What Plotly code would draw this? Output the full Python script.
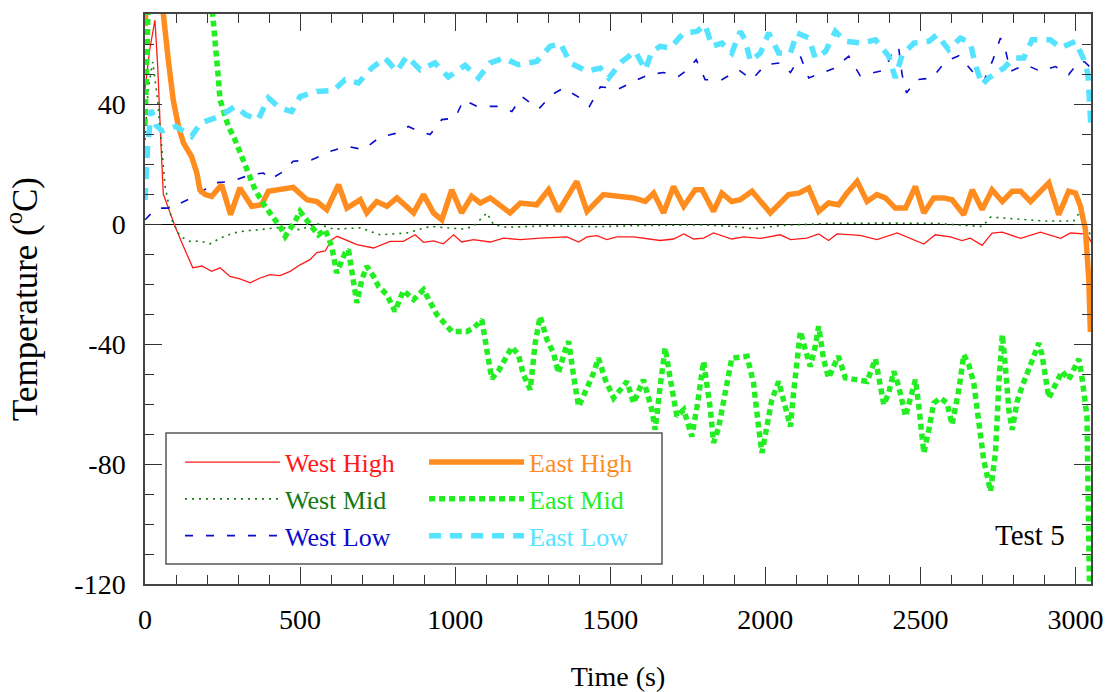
import plotly.graph_objects as go

# ---- Test 5 thermocouple records: time (s) and temperature (deg C) ----
west_high_t = [0, 15, 32, 41, 50, 59, 81, 97, 124, 154, 183, 215, 242, 274, 306, 339, 371, 403, 435, 468,
               500, 532, 554, 581, 602, 620, 683, 737, 790, 833, 871, 898, 930, 962, 995, 1021, 1059, 1113,
               1156, 1210, 1274, 1360, 1398, 1425, 1457, 1489, 1521, 1575, 1661, 1704, 1737, 1769, 1801,
               1833, 1892, 1930, 1984, 2048, 2081, 2134, 2172, 2204, 2231, 2306, 2360, 2425, 2511, 2548,
               2597, 2634, 2661, 2699, 2731, 2764, 2823, 2887, 2952, 2984, 3027, 3043, 3050]
west_high_v = [45, 58, 68, 52.5, 30, 10, 3.7, -0.8, -7.5, -14.6, -14, -15.8, -14.6, -17.5, -18.3, -19.6,
               -18, -16.9, -17.2, -15.8, -13.6, -11.9, -9.5, -9, -5.2, -4.1, -6.9, -8, -5.8, -5.8, -3.6,
               -6.1, -5.6, -6.6, -3.6, -6, -5.2, -6, -4.7, -5.2, -4.7, -4.3, -6, -4.3, -3.9, -5.2, -4.3,
               -4.3, -5.5, -5, -3.3, -5, -4.7, -3, -5, -4.3, -4.8, -3.6, -5.2, -4.7, -3.3, -5.5, -3.3, -3.8,
               -5.2, -3, -6.7, -3.6, -4.3, -5.5, -4.7, -7.1, -3, -2.7, -4.8, -2.7, -4.8, -3, -3.3, -4.5, -6]

west_mid_t = [0, 10, 25, 40, 50, 65, 86, 113, 145, 177, 210, 242, 285, 328, 371, 435, 500, 554, 608, 694,
              758, 844, 919, 1027, 1059, 1102, 1124, 1166, 1300, 1450, 1600, 1700, 1800, 1900, 1960, 2050,
              2200, 2400, 2550, 2650, 2700, 2726, 2800, 2900, 2994, 3016, 3035, 3050]
west_mid_v = [28, 45, 54, 42, 30, 12.5, 1.4, -4.1, -5.8, -5.7, -6.6, -4.7, -3, -2.2, -1.9, -1.1, -1.9, 0.1,
              -1.7, -1.3, -3.6, -3, -0.8, -1.7, -0.8, 3.7, -0.2, -1.1, -0.6, -0.9, -0.5, -0.5, -0.3, -0.8,
              -1.6, -0.5, 0.2, 0.3, 0.2, -0.5, -0.8, 2.3, 1.8, 1.0, 1.0, 4.2, -1, -4]

west_low_t = [0, 37, 81, 124, 172, 220, 280, 339, 382, 403, 446, 478, 538, 597, 651, 704, 758, 812, 849,
              882, 919, 957, 1000, 1027, 1070, 1135, 1183, 1215, 1269, 1312, 1349, 1403, 1433, 1468, 1527,
              1575, 1624, 1672, 1720, 1753, 1777, 1806, 1860, 1914, 1957, 2000, 2048, 2081, 2113, 2140,
              2177, 2220, 2269, 2306, 2344, 2387, 2414, 2430, 2441, 2455, 2489, 2538, 2581, 2624, 2667,
              2704, 2734, 2758, 2774, 2790, 2839, 2887, 2935, 2978, 3011, 3030, 3050]
west_low_v = [1.4, 5.3, 5.3, 7.5, 9.8, 13.7, 14.2, 16.4, 17, 14.8, 17.5, 20.9, 21.4, 24.2, 25.9, 24.8, 29,
              30.3, 32.5, 30.9, 29.8, 34.8, 35.3, 41.4, 39.2, 39.2, 37.5, 42.5, 38.3, 43.1, 45.3, 42, 39.2,
              45.7, 45, 47.5, 49.8, 50.5, 49.2, 51.7, 54.8, 48.1, 48.1, 51.4, 48.1, 53.1, 53.7, 50.5, 55.9,
              48.7, 50.1, 51.8, 55.9, 49.4, 50.3, 51.4, 58.7, 58.7, 49.8, 43.7, 48.1, 48.7, 54.2, 56.1,
              50.9, 47.5, 54.8, 62, 58.1, 50.9, 53.1, 50.9, 52.5, 49.8, 54.2, 54, 52]

east_high_t = [0, 15, 45, 59, 75, 91, 108, 124, 150, 167, 177, 194, 215, 247, 276, 306, 344, 376, 398, 435,
               478, 522, 554, 586, 624, 651, 694, 715, 747, 780, 812, 866, 898, 930, 957, 989, 1021, 1053,
               1081, 1113, 1177, 1210, 1263, 1301, 1333, 1392, 1425, 1478, 1532, 1575, 1613, 1640, 1672,
               1704, 1737, 1774, 1796, 1833, 1860, 1892, 1919, 1957, 2016, 2075, 2108, 2140, 2172, 2204,
               2236, 2263, 2296, 2328, 2360, 2387, 2419, 2452, 2484, 2511, 2543, 2575, 2602, 2640, 2667,
               2699, 2731, 2764, 2796, 2823, 2855, 2887, 2914, 2946, 2978, 3000, 3016, 3032, 3043, 3048]
east_high_v = [66, 95, 95, 70, 54.8, 41.4, 32.5, 27, 22.5, 17, 11.4, 9.8, 9.2, 13.1, 3.1, 12, 5.9, 6.4,
               10.9, 11.4, 12.2, 8.1, 7.5, 4.8, 13.1, 5.3, 8.1, 3.7, 7.5, 5.9, 8.7, 3.7, 9.8, 3.7, 1.4, 11.4,
               3.7, 9.2, 7, 8.7, 3.7, 7, 6.4, 11.4, 4.2, 14.2, 4.2, 9.8, 9.2, 8.7, 7.5, 10.3, 3.7, 12.5, 5.9,
               11.4, 11.4, 4.2, 10.3, 7.5, 8.1, 10.9, 3.7, 9.8, 10.3, 12, 4.2, 7, 6.4, 10.3, 14.2, 7.5, 9.8,
               8.7, 5.3, 5.3, 12.5, 3.7, 8.7, 8.7, 8.1, 3.1, 11.4, 4.8, 11.4, 7.5, 10.9, 10.9, 7.5, 10.9,
               13.7, 3.1, 10.9, 10.3, 5.9, -1.9, -18.6, -36]

east_mid_t = [0, 5, 20, 150, 200, 218, 226, 236, 242, 269, 290, 312, 328, 355, 387, 414, 435, 452, 468, 484,
              500, 522, 545, 559, 581, 602, 618, 629, 645, 656, 667, 683, 699, 715, 737, 753, 780, 806, 833,
              866, 898, 919, 941, 989, 1038, 1059, 1086, 1102, 1118, 1140, 1156, 1183, 1204, 1220, 1242,
              1258, 1274, 1296, 1317, 1333, 1355, 1366, 1382, 1398, 1425, 1446, 1462, 1484, 1511, 1532,
              1554, 1575, 1607, 1634, 1645, 1661, 1677, 1694, 1715, 1737, 1763, 1780, 1801, 1823, 1833,
              1849, 1871, 1892, 1941, 1962, 1978, 1989, 2005, 2021, 2043, 2065, 2081, 2091, 2102, 2113,
              2129, 2145, 2161, 2172, 2188, 2204, 2220, 2236, 2258, 2290, 2328, 2355, 2382, 2398, 2414,
              2430, 2452, 2468, 2484, 2495, 2511, 2527, 2543, 2565, 2586, 2602, 2624, 2640, 2656, 2672,
              2688, 2704, 2726, 2742, 2753, 2764, 2774, 2785, 2796, 2812, 2828, 2855, 2882, 2892, 2914,
              2935, 2957, 2978, 2995, 3011, 3021, 3037, 3045, 3050]
east_mid_v = [33, 75, 110, 110, 85, 70, 58, 49.2, 41.4, 32.5, 28.1, 22.5, 18.1, 11.4, 5.9, 2.5, -0.8, -4.1,
              -1.9, 0.9, 4.2, 0.9, -1.9, -3.6, -1.9, -7.5, -16.3, -13.6, -9.7, -8.6, -15.2, -26.3, -18.6,
              -14.1, -17.5, -20.8, -23.6, -29.1, -22.2, -25.2, -21.9, -26.3, -30.2, -35.8, -35.8, -34.7,
              -31.9, -41.9, -51.6, -48.9, -45.8, -41, -43.6, -50.2, -55.2, -39.7, -30.8, -38.6, -43, -49.7,
              -41.9, -39.1, -50.8, -60.8, -54.7, -49.7, -44.7, -51.9, -58, -55.2, -52.5, -59.7, -51.9,
              -61.9, -68.6, -54.1, -41.3, -51.9, -64.1, -61.9, -70.8, -60.8, -45.8, -61.9, -73, -68, -55.2,
              -44.7, -44.1, -53, -67.5, -76.3, -67.5, -58.6, -52.5, -61.9, -67.5, -56.3, -45.2, -35.8,
              -41.9, -47.5, -40.8, -34.1, -45.2, -51.3, -47.5, -44.1, -51.3, -51.9, -52.5, -45, -60.2,
              -56.3, -49.1, -54.1, -64.1, -58, -51.9, -60.8, -76.3, -68.6, -59.7, -58, -59.7, -66.9, -55.2,
              -43.6, -46.9, -53, -65.2, -78.6, -89.1, -76.3, -53, -36.9, -47.5, -61.9, -68.6, -59.1, -54.1,
              -46.9, -39.7, -43.6, -58, -53.6, -49.1, -51.9, -48, -45, -51.3, -64.1, -120, -135]

east_low_t = [0, 8, 20, 35, 55, 100, 150, 180, 242, 290, 325, 365, 398, 435, 473, 500, 554, 608, 645, 688,
              731, 774, 812, 844, 887, 935, 978, 1032, 1075, 1113, 1156, 1204, 1263, 1306, 1339, 1371, 1425,
              1468, 1495, 1538, 1581, 1613, 1634, 1661, 1694, 1737, 1780, 1806, 1828, 1860, 1892, 1919,
              1935, 1952, 1984, 2011, 2043, 2081, 2102, 2140, 2161, 2194, 2226, 2258, 2312, 2355, 2398,
              2419, 2441, 2479, 2527, 2554, 2591, 2629, 2661, 2677, 2699, 2720, 2769, 2801, 2833, 2860,
              2919, 2952, 3000, 3027, 3040, 3046, 3050]
east_low_v = [8, 25, 38, 33, 31, 32.5, 29.2, 33.7, 35.9, 39.2, 36.4, 34.8, 42, 38.7, 37.5, 42.5, 44.2, 44.5,
              48.1, 47, 52, 55.3, 50.9, 55.9, 51.4, 53.7, 49, 52.9, 48.7, 53.7, 55.3, 53.1, 54.2, 59.2, 60.3,
              53.7, 50.9, 52, 48.7, 54.2, 57.5, 51.4, 57.5, 59.2, 58.7, 63.7, 64.2, 66.4, 59.2, 60.3, 57,
              64.2, 61.4, 54.2, 57, 63.7, 57, 57, 63.7, 62, 55.3, 57.5, 64.2, 60.9, 60.3, 61.4, 55.9, 48.7,
              56.4, 60.3, 60.9, 63.1, 58.1, 62, 60.3, 53.1, 46.4, 48.7, 52, 55.3, 55.3, 61.4, 61.4, 58.7,
              60.9, 54.8, 50, 40, 32]

x_tick_vals = [0, 500, 1000, 1500, 2000, 2500, 3000]
y_tick_vals = [-120, -80, -40, 0, 40]
y_tick_text = ["-120", "-80", "-40", "0", "40"]

SERIF = "Liberation Serif, Times New Roman, serif"

# name, times, values, colour, width, dash, legend column
series = [
    ("West High", west_high_t, west_high_v, "#ff1a1a", 1.3, "solid", "legend"),
    ("West Mid", west_mid_t, west_mid_v, "#127a12", 1.6, "2px,5px", "legend"),
    ("West Low", west_low_t, west_low_v, "#0a0acc", 1.6, "8px,13px", "legend"),
    ("East High", east_high_t, east_high_v, "#ff8c1f", 5.5, "solid", "legend2"),
    ("East Mid", east_mid_t, east_mid_v, "#22ee22", 5.5, "6px,4px", "legend2"),
    ("East Low", east_low_t, east_low_v, "#55e3ff", 5.5, "12px,9px", "legend2"),
]

fig = go.Figure()
for name, t, v, color, width, dash, leg in series:
    assert len(t) == len(v), name
    fig.add_trace(go.Scatter(
        x=t, y=v, mode="lines", legend=leg,
        name=f"<span style='color:{color}'>{name}</span>",
        line=dict(color=color, width=width, dash=dash),
        hoverinfo="skip",
    ))

axis_common = dict(
    showline=True, linecolor="#444444", linewidth=1.5, mirror="ticks",
    ticks="inside", ticklen=17, tickwidth=1.2, tickcolor="#333333",
    showgrid=False, automargin=False,
    tickfont=dict(family=SERIF, size=28, color="black"),
)

fig.update_xaxes(
    range=[0, 3050], tickmode="array", tickvals=x_tick_vals,
    minor=dict(ticks="inside", ticklen=9, dtick=100, tick0=0, tickcolor="#333333", tickwidth=1, showgrid=False),
    title=dict(text="Time (s)", font=dict(family=SERIF, size=28, color="black"), standoff=32),
    ticklabelstandoff=10, zeroline=False,
    **axis_common,
)
fig.update_yaxes(
    range=[-120, 70], tickmode="array", tickvals=y_tick_vals, ticktext=y_tick_text,
    minor=dict(ticks="inside", ticklen=9, dtick=10, tick0=0, tickcolor="#333333", tickwidth=1, showgrid=False),
    title=dict(text="Temperature (<sup>o</sup>C)", font=dict(family=SERIF, size=35, color="black"), standoff=34),
    ticklabelstandoff=12, zeroline=True, zerolinecolor="black", zerolinewidth=1.2,
    **axis_common,
)

legend_style = dict(
    bgcolor="rgba(0,0,0,0)", borderwidth=0, orientation="v",
    font=dict(family=SERIF, size=26), itemwidth=95, tracegroupgap=0,
    xanchor="left", yanchor="top",
)
fig.update_layout(
    width=1112, height=692,
    margin=dict(l=145, r=21, t=14, b=108),
    paper_bgcolor="white", plot_bgcolor="white",
    legend=dict(x=0.037, y=0.255, **legend_style),
    legend2=dict(x=0.295, y=0.255, **legend_style),
    shapes=[dict(type="rect", xref="paper", yref="paper", x0=0.0222, x1=0.5465, y0=0.035, y1=0.2648,
                 line=dict(color="#555555", width=1.5), fillcolor="white", layer="above")],
    annotations=[dict(text="Test 5", xref="paper", yref="paper", x=0.975, y=0.086,
                      xanchor="right", yanchor="middle", showarrow=False,
                      font=dict(family=SERIF, size=29, color="black"))],
)

fig.write_html("out.html")
